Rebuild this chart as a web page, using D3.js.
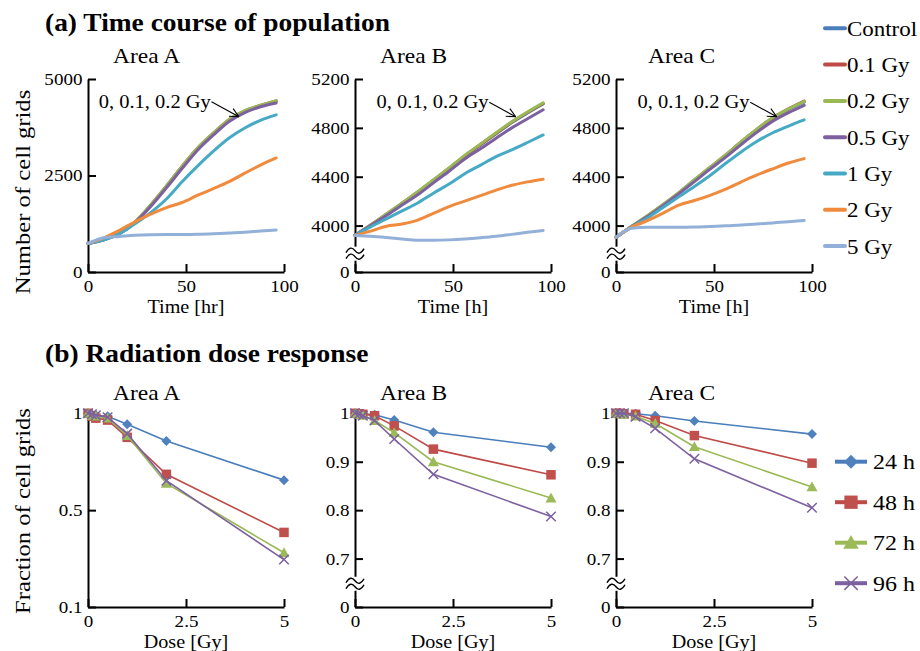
<!DOCTYPE html>
<html>
<head>
<meta charset="utf-8">
<script src="https://cdn.jsdelivr.net/npm/d3@7"></script>
<style>
  body { margin: 0; background: #fff; }
  svg { font-family: "Liberation Serif", "Times New Roman", serif; }
</style>
</head>
<body>
<svg id="chart" width="920" height="651"></svg>
<script>
// ---- data ----
const areas = ["Area A", "Area B", "Area C"];

// (a) population time course, sampled every 8 h
const times = [0, 8, 16, 24, 32, 40, 48, 56, 64, 72, 80, 88, 96];
const popSeries = ["Control", "0.1 Gy", "0.2 Gy", "0.5 Gy", "1 Gy", "2 Gy", "5 Gy"];
const popColors = ["#4a7ebb", "#be4b48", "#98b954", "#7d60a0", "#46aac5", "#f08a3c", "#93b0d8"];

const popA = [
  [740, 835, 995, 1290, 1725, 2215, 2725, 3205, 3590, 3935, 4165, 4310, 4420],
  [740, 838, 998, 1295, 1732, 2222, 2732, 3212, 3595, 3942, 4172, 4315, 4430],
  [740, 840, 1000, 1300, 1740, 2230, 2740, 3220, 3600, 3950, 4180, 4320, 4440],
  [740, 835, 990, 1280, 1700, 2180, 2680, 3160, 3550, 3900, 4130, 4280, 4380],
  [740, 830, 990, 1250, 1540, 1890, 2340, 2750, 3130, 3470, 3730, 3930, 4070],
  [740, 885, 1080, 1300, 1500, 1670, 1800, 1990, 2160, 2340, 2560, 2770, 2955],
  [740, 890, 920, 950, 965, 970, 970, 975, 990, 1010, 1030, 1060, 1085]
];
const popB = [
  [3920, 4002, 4090, 4180, 4272, 4368, 4466, 4568, 4660, 4752, 4843, 4922, 4996],
  [3920, 4004, 4092, 4183, 4275, 4372, 4469, 4571, 4664, 4756, 4847, 4926, 5000],
  [3920, 4005, 4095, 4185, 4278, 4375, 4472, 4575, 4667, 4760, 4850, 4930, 5005],
  [3920, 4000, 4082, 4168, 4252, 4350, 4445, 4545, 4628, 4715, 4800, 4875, 4948],
  [3920, 3990, 4055, 4120, 4185, 4265, 4340, 4425, 4495, 4565, 4620, 4680, 4742],
  [3920, 3955, 3995, 4013, 4045, 4100, 4155, 4200, 4245, 4290, 4330, 4358, 4380],
  [3918, 3912, 3902, 3890, 3880, 3880, 3883, 3890, 3900, 3912, 3928, 3945, 3960]
];
const popC = [
  [3904, 3992, 4076, 4167, 4265, 4370, 4472, 4574, 4684, 4786, 4878, 4950, 5010],
  [3904, 3994, 4078, 4170, 4268, 4373, 4476, 4578, 4688, 4790, 4883, 4956, 5020],
  [3904, 3995, 4080, 4172, 4270, 4375, 4478, 4580, 4690, 4792, 4885, 4955, 5015],
  [3904, 3990, 4072, 4162, 4260, 4360, 4462, 4560, 4665, 4765, 4855, 4925, 4985],
  [3904, 3988, 4062, 4148, 4235, 4320, 4410, 4510, 4605, 4690, 4760, 4815, 4865],
  [3904, 3987, 4040, 4102, 4168, 4205, 4248, 4298, 4358, 4415, 4465, 4512, 4548],
  [3904, 3978, 3986, 3986, 3986, 3988, 3993, 3998, 4004, 4012, 4022, 4032, 4041]
];

// (b) dose response
const doses = [0, 0.1, 0.2, 0.5, 1, 2, 5];
const hours = ["24 h", "48 h", "72 h", "96 h"];
const hourColors = ["#4a7ebb", "#be4b48", "#98b954", "#7d60a0"];
const hourFills = ["#4f81bd", "#c0504d", "#9bbb59", "#8064a2"];

const fracA = [
  [1, 0.995, 0.99, 0.985, 0.943, 0.857, 0.655],
  [1, 0.985, 0.975, 0.965, 0.876, 0.685, 0.385],
  [1, 0.99, 0.985, 0.975, 0.885, 0.638, 0.28],
  [1, 0.995, 0.99, 0.98, 0.895, 0.652, 0.245]
];
const fracB = [
  [1, 1, 0.999, 0.997, 0.986, 0.961, 0.930],
  [1, 0.999, 0.998, 0.995, 0.974, 0.926, 0.873],
  [1, 0.998, 0.996, 0.985, 0.960, 0.900, 0.825],
  [1, 0.998, 0.995, 0.985, 0.947, 0.874, 0.787]
];
const fracC = [
  [1, 1, 1, 0.999, 0.995, 0.984, 0.957],
  [1, 1, 0.999, 0.998, 0.985, 0.954, 0.897],
  [1, 0.999, 0.998, 0.994, 0.979, 0.931, 0.848],
  [1, 1, 1, 0.993, 0.969, 0.906, 0.805]
];

// ticks
const timeTicks = [0, 50, 100];
const popTicksA = [0, 2500, 5000];
const popTicksBC = [3620, 4000, 4400, 4800, 5200];
const popTickLabelsBC = ["0", "4000", "4400", "4800", "5200"];
const doseTicks = [0, 2.5, 5];
const fracTicksA = [0, 0.5, 1];
const fracTickLabelsA = ["0.1", "0.5", "1"];
const fracTicksBC = [0.6, 0.7, 0.8, 0.9, 1];
const fracTickLabelsBC = ["0", "0.7", "0.8", "0.9", "1"];

// annotation "0, 0.1, 0.2 Gy" in data coords: [text start], [arrow start], [arrow tip]
const annoA = [[5.5, 4240], [63, 4413], [77, 4022]];
const annoBC = [[11, 4960], [68.5, 5009], [82, 4891]];

// ---- layout ----
const SX = 1.12; // the source font is a bit wider than Times
const svg = d3.select("#chart");
const panelX0 = [88, 355, 616];
const plotW = 196;
const topY = [79, 272];
const botY = [413.3, 607];

function txt(g, x, y, s, size, anchor, extra) {
  return g.append("text")
    .attr("transform", `translate(${x},${y})${extra || ""} scale(${SX},1)`)
    .attr("font-size", size)
    .attr("font-family", "Liberation Serif, serif")
    .attr("text-anchor", anchor || "start")
    .attr("fill", "#000")
    .text(s);
}

function breakMark(g, x, y) {
  g.append("rect").attr("x", x - 10).attr("y", y - 7).attr("width", 20).attr("height", 14).attr("fill", "#fff");
  [-3, 3].forEach(dy => {
    g.append("path")
      .attr("d", `M${x - 9},${y + dy + 2} Q${x - 4.5},${y + dy - 6} ${x},${y + dy} T${x + 9},${y + dy - 2}`)
      .attr("fill", "none").attr("stroke", "#000").attr("stroke-width", 1.4);
  });
}

function styleAxis(g, size) {
  g.select(".domain").attr("stroke", "#000").attr("stroke-width", 2);
  g.selectAll(".tick line").attr("stroke", "#000").attr("stroke-width", 2);
  g.selectAll(".tick text")
    .attr("font-size", size)
    .attr("fill", "#000")
    .attr("font-family", "Liberation Serif, serif")
    .attr("transform", `scale(${SX},1)`);
}

function drawAxes(g, x, y, xTicks, xFmt, yTicks, yFmt, bottom) {
  const gx = g.append("g").attr("transform", `translate(0,${bottom})`)
    .call(d3.axisBottom(x).tickValues(xTicks).tickFormat(xFmt).tickSizeInner(-8).tickSizeOuter(0).tickPadding(8));
  styleAxis(gx, 17);
  const gy = g.append("g").attr("transform", `translate(${x.range()[0]},0)`)
    .call(d3.axisLeft(y).tickValues(yTicks).tickFormat(yFmt).tickSizeInner(-8).tickSizeOuter(0).tickPadding(5));
  styleAxis(gy, 17);
}

// ---- titles ----
txt(svg, 45, 31, "(a) Time course of population", 24.5, "start").attr("font-weight", "bold");
txt(svg, 45, 362, "(b) Radiation dose response", 24.5, "start").attr("font-weight", "bold");

const titleOff = [25, 25, 32];

// ---- (a) panels ----
[popA, popB, popC].forEach((data, i) => {
  const g = svg.append("g");
  const x0 = panelX0[i];
  const x = d3.scaleLinear().domain([0, 100]).range([x0, x0 + plotW]);
  const y = i === 0
    ? d3.scaleLinear().domain([0, 5000]).range([topY[1], topY[0]])
    : d3.scaleLinear().domain([3620, 5200]).range([topY[1], topY[0]]);

  drawAxes(g, x, y, timeTicks, d3.format("d"),
    i === 0 ? popTicksA : popTicksBC,
    i === 0 ? d3.format("d") : (d, k) => popTickLabelsBC[k],
    topY[1]);
  if (i > 0) breakMark(g, x0, y(3770));

  const line = d3.line().x((d, k) => x(times[k])).y(d => y(d)).curve(d3.curveMonotoneX);
  g.append("g").selectAll("path").data(data).enter().append("path")
    .attr("d", d => line(d))
    .attr("fill", "none")
    .attr("stroke", (d, k) => popColors[k])
    .attr("stroke-width", 3)
    .attr("stroke-linecap", "round")
    .attr("stroke-linejoin", "round");

  // annotation
  const a = i === 0 ? annoA : annoBC;
  txt(g, x(a[0][0]), y(a[0][1]), "0, 0.1, 0.2 Gy", 18.3, "start");
  const sx = x(a[1][0]), sy = y(a[1][1]), ex = x(a[2][0]), ey = y(a[2][1]);
  g.append("line").attr("x1", sx).attr("y1", sy).attr("x2", ex).attr("y2", ey)
    .attr("stroke", "#000").attr("stroke-width", 1.1);
  const ang = Math.atan2(ey - sy, ex - sx);
  [0.45, -0.45].forEach(da => {
    g.append("line").attr("x1", ex).attr("y1", ey)
      .attr("x2", ex - 10 * Math.cos(ang + da)).attr("y2", ey - 10 * Math.sin(ang + da))
      .attr("stroke", "#000").attr("stroke-width", 1.1);
  });

  txt(g, x0 + titleOff[i], 63, areas[i], 21, "start");
  txt(g, x(50), 313, i === 0 ? "Time [hr]" : "Time [h]", 18, "middle");
});
txt(svg, 30, 192, "Number of cell grids", 22, "middle", " rotate(-90)");

// legend (a)
popSeries.forEach((s, k) => {
  const ly = 28.3 + k * 36.3;
  svg.append("line").attr("x1", 825).attr("x2", 845).attr("y1", ly).attr("y2", ly)
    .attr("stroke", popColors[k]).attr("stroke-width", 4).attr("stroke-linecap", "round");
  txt(svg, 847, ly + 7.5, s, 20.5, "start");
});

// ---- markers ----
function marker(g, k, cx, cy, r) {
  const col = hourColors[k], fill = hourFills[k];
  if (k === 0) {
    g.append("path").attr("d", `M${cx},${cy - r}L${cx + r},${cy}L${cx},${cy + r}L${cx - r},${cy}Z`).attr("fill", fill);
  } else if (k === 1) {
    const h = r * 0.95;
    g.append("rect").attr("x", cx - h).attr("y", cy - h).attr("width", 2 * h).attr("height", 2 * h).attr("fill", fill);
  } else if (k === 2) {
    const h = r * 1.1;
    g.append("path").attr("d", `M${cx},${cy - h}L${cx + h},${cy + h * 0.8}L${cx - h},${cy + h * 0.8}Z`).attr("fill", fill);
  } else {
    const h = r * 0.95;
    g.append("path").attr("d", `M${cx - h},${cy - h}L${cx + h},${cy + h}M${cx - h},${cy + h}L${cx + h},${cy - h}`)
      .attr("stroke", col).attr("stroke-width", 1.5).attr("fill", "none");
  }
}

// ---- (b) panels ----
[fracA, fracB, fracC].forEach((data, i) => {
  const g = svg.append("g");
  const x0 = panelX0[i];
  const x = d3.scaleLinear().domain([0, 5]).range([x0, x0 + plotW]);
  const y = i === 0
    ? d3.scaleLinear().domain([0, 1]).range([botY[1], botY[0]])
    : d3.scaleLinear().domain([0.6, 1]).range([botY[1], botY[0]]);

  drawAxes(g, x, y, doseTicks, d => String(d),
    i === 0 ? fracTicksA : fracTicksBC,
    i === 0 ? (d, k) => fracTickLabelsA[k] : (d, k) => fracTickLabelsBC[k],
    botY[1]);
  if (i > 0) breakMark(g, x0, y(0.648));

  const line = d3.line().x((d, k) => x(doses[k])).y(d => y(d));
  data.forEach((ser, k) => {
    g.append("path").attr("d", line(ser)).attr("fill", "none")
      .attr("stroke", hourColors[k]).attr("stroke-width", 1.6);
    ser.forEach((v, j) => marker(g, k, x(doses[j]), y(v), 5));
  });

  txt(g, x0 + titleOff[i], 400, areas[i], 21, "start");
  txt(g, x(2.5), 648, "Dose [Gy]", 18, "middle");
});
txt(svg, 30, 511, "Fraction of cell grids", 22, "middle", " rotate(-90)");

// legend (b)
hours.forEach((s, k) => {
  const ly = 461.7 + k * 40.5;
  svg.append("line").attr("x1", 835).attr("x2", 867).attr("y1", ly).attr("y2", ly)
    .attr("stroke", hourColors[k]).attr("stroke-width", 4);
  marker(svg, k, 851, ly, 7);
  txt(svg, 873, ly + 7.5, s, 21.4, "start");
});
</script>
</body>
</html>
